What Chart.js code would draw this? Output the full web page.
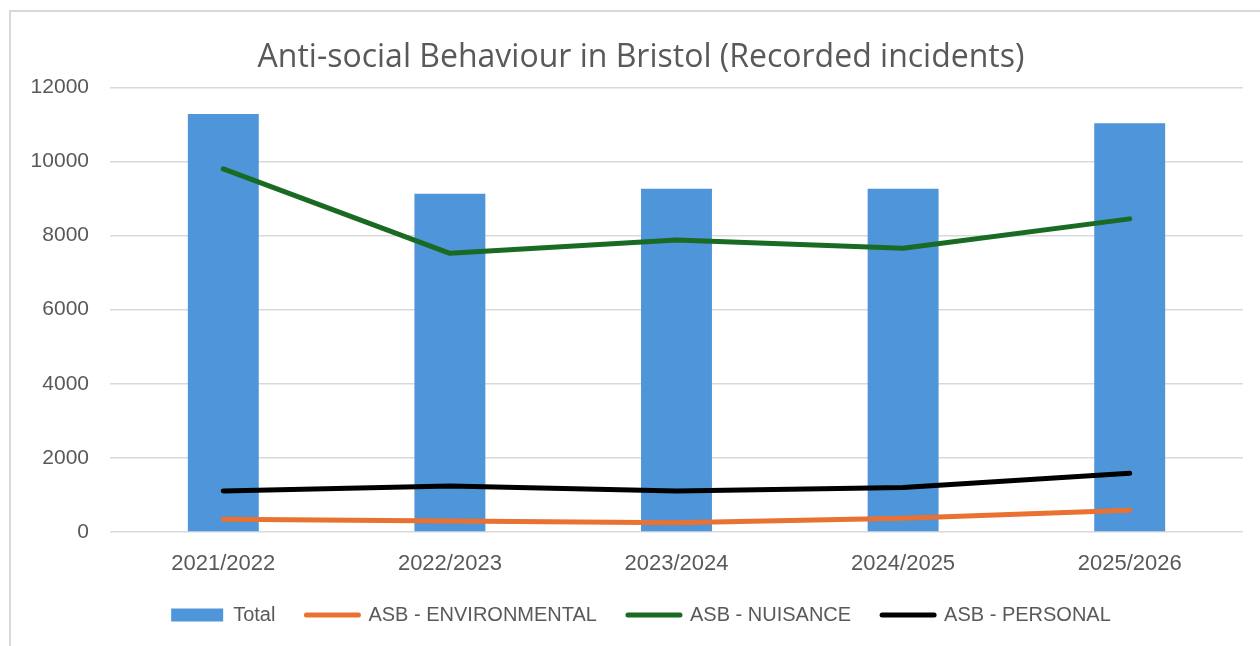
<!DOCTYPE html>
<html>
<head>
<meta charset="utf-8">
<script src="https://cdn.jsdelivr.net/npm/chart.js@4.4.1/dist/chart.umd.min.js"></script>
<style>
  html, body { margin: 0; padding: 0; background: #ffffff; }
  #wrap { position: relative; width: 1260px; height: 646px; }
</style>
</head>
<body>
<div id="wrap"><canvas id="c" width="1260" height="646"></canvas></div>
<script>
const categories = ['2021/2022', '2022/2023', '2023/2024', '2024/2025', '2025/2026'];
const totalValues = [11280, 9130, 9262, 9262, 11035];
const environmentalValues = [342, 297, 252, 370, 586];
const nuisanceValues = [9802, 7522, 7884, 7657, 8451];
const personalValues = [1108, 1243, 1108, 1198, 1586];
const yTicks = [0, 2000, 4000, 6000, 8000, 10000, 12000];

const frame = {
  id: 'frame',
  beforeDraw(chart) {
    const ctx = chart.ctx;
    ctx.save();
    ctx.fillStyle = '#ffffff';
    ctx.fillRect(0, 0, chart.width, chart.height);
    ctx.strokeStyle = '#d9d9d9';
    ctx.lineWidth = 2;
    ctx.beginPath();
    ctx.moveTo(10, chart.height);
    ctx.lineTo(10, 11);
    ctx.lineTo(chart.width, 11);
    ctx.stroke();
    ctx.restore();
  }
};

const lineCommon = {
  type: 'line',
  borderWidth: 5,
  pointRadius: 0,
  pointHoverRadius: 0,
  tension: 0,
  borderCapStyle: 'round',
  borderJoinStyle: 'round',
  fill: false,
  order: 0,
  pointStyle: 'line'
};

new Chart(document.getElementById('c'), {
  type: 'bar',
  data: {
    labels: categories,
    datasets: [
      { label: 'Total', data: totalValues, backgroundColor: '#4e95d9', borderWidth: 0,
        categoryPercentage: 1, barPercentage: 0.313, order: 1, pointStyle: 'rect' },
      Object.assign({ label: 'ASB - ENVIRONMENTAL', data: environmentalValues, borderColor: '#e97132', backgroundColor: '#e97132' }, lineCommon),
      Object.assign({ label: 'ASB - NUISANCE', data: nuisanceValues, borderColor: '#196b24', backgroundColor: '#196b24' }, lineCommon),
      Object.assign({ label: 'ASB - PERSONAL', data: personalValues, borderColor: '#000000', backgroundColor: '#000000' }, lineCommon)
    ]
  },
  options: {
    responsive: false,
    animation: false,
    layout: { padding: { left: 22, right: 0, top: 0, bottom: 11 } },
    plugins: {
      tooltip: { enabled: false },
      title: {
        display: true,
        text: 'Anti-social Behaviour in Bristol (Recorded incidents)',
        color: '#595959',
        font: { family: 'Open Sans', size: 32, weight: 'normal', lineHeight: 1.2 },
        padding: { top: 39, bottom: 10 }
      },
      legend: {
        position: 'bottom',
        labels: {
          color: '#595959',
          font: { family: 'Liberation Sans', size: 20 },
          usePointStyle: true,
          pointStyleWidth: 52,
          boxHeight: 13,
          padding: 31,
          sort: (a, b) => a.datasetIndex - b.datasetIndex,
          generateLabels(chart) {
            const items = Chart.defaults.plugins.legend.labels.generateLabels(chart);
            items.forEach(it => {
              const ds = chart.data.datasets[it.datasetIndex];
              it.pointStyle = ds.pointStyle;
              if (ds.type === 'line') {
                it.lineWidth = 5;
                it.strokeStyle = ds.borderColor;
                it.lineCap = 'round';
              } else {
                it.lineWidth = 0;
                it.fillStyle = ds.backgroundColor;
              }
            });
            return items;
          }
        }
      }
    },
    scales: {
      x: {
        offset: true,
        grid: { display: false, drawTicks: false },
        border: { display: false },
        ticks: { color: '#595959', font: { family: 'Liberation Sans', size: 22 }, padding: 19 },
        afterFit(s) { s.height = 42; }
      },
      y: {
        min: 0,
        max: 12000,
        afterBuildTicks(s) { s.ticks = yTicks.map(v => ({ value: v })); },
        grid: { color: '#d9d9d9', lineWidth: 1.5, drawTicks: false },
        border: { display: false },
        ticks: { color: '#595959', font: { family: 'Liberation Sans', size: 21 }, padding: 21,
                 callback: v => String(v) },
        afterFit(s) { s.width = 88; }
      },
      yPad: {
        position: 'right',
        display: true,
        min: 0,
        max: 12000,
        grid: { display: false, drawTicks: false },
        border: { display: false },
        ticks: { display: false },
        afterFit(s) { s.width = 17; }
      }
    }
  },
  plugins: [frame]
});
</script>
</body>
</html>
